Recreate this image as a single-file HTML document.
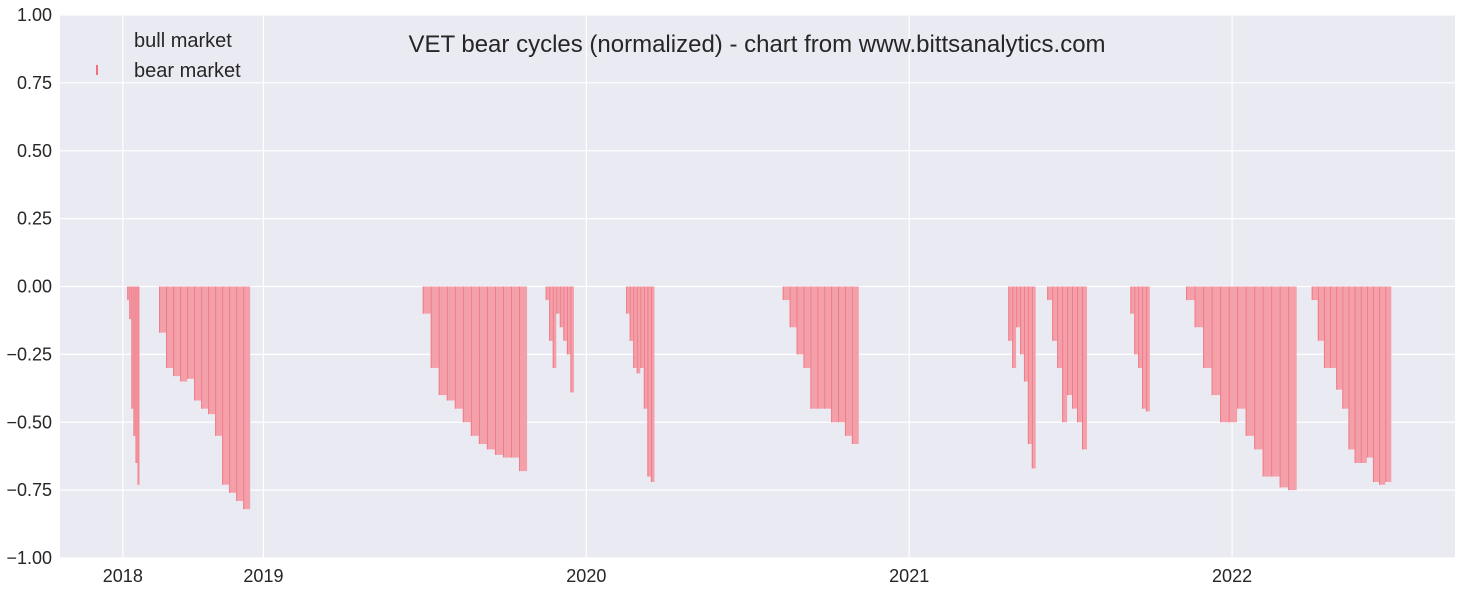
<!DOCTYPE html>
<html><head><meta charset="utf-8"><style>
body{margin:0;background:#fff;}
svg{display:block;font-family:"Liberation Sans",Arial,sans-serif;}
</style></head><body>
<svg id="chart" width="1462" height="590" viewBox="0 0 1462 590" xmlns="http://www.w3.org/2000/svg">
<rect x="60" y="15" width="1395" height="543" fill="#EAEAF2"/>
<g id="grid"></g>
<g id="bars"></g>
<g id="axes"></g>
<text x="757" y="52" font-size="24" fill="#262626" text-anchor="middle">VET bear cycles (normalized)  - chart from www.bittsanalytics.com</text>
<g>
<text x="134" y="47" font-size="20" fill="#262626">bull market</text>
<rect x="96" y="65" width="2" height="10" fill="#f07080"/>
<text x="134" y="77" font-size="20" fill="#262626">bear market</text>
</g>
</svg>
<script>
const xTickLabels=["2018","2019","2020","2021","2022"];
const xTickDays=[71,230,595,960,1325];
const yTicks=[1,0.75,0.5,0.25,0,-0.25,-0.5,-0.75,-1];
const segStart=[76,112,410,549,640,817,1072,1116,1210,1273,1415];
const segEnd=[90,215,528,581,672,903,1103,1161,1232,1398,1505];
const segValues=[
[-0.05,-0.12,-0.45,-0.55,-0.65,-0.73],
[-0.17,-0.3,-0.33,-0.35,-0.34,-0.42,-0.45,-0.47,-0.55,-0.73,-0.76,-0.79,-0.82],
[-0.1,-0.3,-0.4,-0.42,-0.45,-0.5,-0.55,-0.58,-0.6,-0.62,-0.63,-0.63,-0.68],
[-0.05,-0.2,-0.3,-0.1,-0.15,-0.2,-0.25,-0.39],
[-0.1,-0.2,-0.3,-0.32,-0.3,-0.45,-0.7,-0.72],
[-0.05,-0.15,-0.25,-0.3,-0.45,-0.45,-0.45,-0.5,-0.5,-0.55,-0.58],
[-0.2,-0.3,-0.15,-0.25,-0.35,-0.58,-0.67],
[-0.05,-0.2,-0.3,-0.5,-0.4,-0.45,-0.5,-0.6],
[-0.1,-0.25,-0.3,-0.45,-0.46],
[-0.05,-0.15,-0.3,-0.4,-0.5,-0.5,-0.45,-0.55,-0.6,-0.7,-0.7,-0.74,-0.75],
[-0.05,-0.2,-0.3,-0.3,-0.38,-0.45,-0.6,-0.65,-0.65,-0.63,-0.72,-0.73,-0.72]
];
const NS="http://www.w3.org/2000/svg";
const X0=60,X1=1455,Y0=15,Y1=558,DMIN=0,DMAX=1577;
function xs(d){return X0+(d-DMIN)/(DMAX-DMIN)*(X1-X0);}
function ys(v){return Y1-(v+1)/2*(Y1-Y0);}
function mk(tag,attrs,parent){const e=document.createElementNS(NS,tag);for(const k in attrs)e.setAttribute(k,attrs[k]);parent.appendChild(e);return e;}
const grid=document.getElementById('grid'),bars=document.getElementById('bars'),axes=document.getElementById('axes');
yTicks.forEach(v=>{
 const l=mk('line',{x1:X0,x2:X1,y1:ys(v),y2:ys(v),stroke:'#fff','stroke-width':1.2},grid);
 
 
 const t=mk('text',{x:52,y:ys(v)+6,'font-size':18,fill:'#262626','text-anchor':'end'},axes);
 t.textContent=(v<0?'\u2212':'')+Math.abs(v).toFixed(2);
 
 
});
xTickDays.forEach((d,i)=>{
 const l=mk('line',{x1:xs(d),x2:xs(d),y1:Y0,y2:Y1,stroke:'#fff','stroke-width':1.2},grid);
 
 
 const t=mk('text',{x:xs(d),y:582,'font-size':18,fill:'#262626','text-anchor':'middle'},axes);
 t.textContent=xTickLabels[i];
 
 
});
segStart.forEach((s,i)=>{
 const vals=segValues[i],n=vals.length,w=(segEnd[i]-s)/n;
 vals.forEach((v,j)=>{
  const xa=xs(s+j*w),xb=xs(s+(j+1)*w);
  const r=mk('rect',{x:xa,y:ys(0),width:xb-xa,height:ys(v)-ys(0),fill:'#f4a0aa'},bars);
  
  
  const l=mk('line',{x1:xa+0.5,x2:xa+0.5,y1:ys(0),y2:ys(v),stroke:'#f07a86','stroke-width':1},bars);
  
  
 });
});
</script>
</body></html>
